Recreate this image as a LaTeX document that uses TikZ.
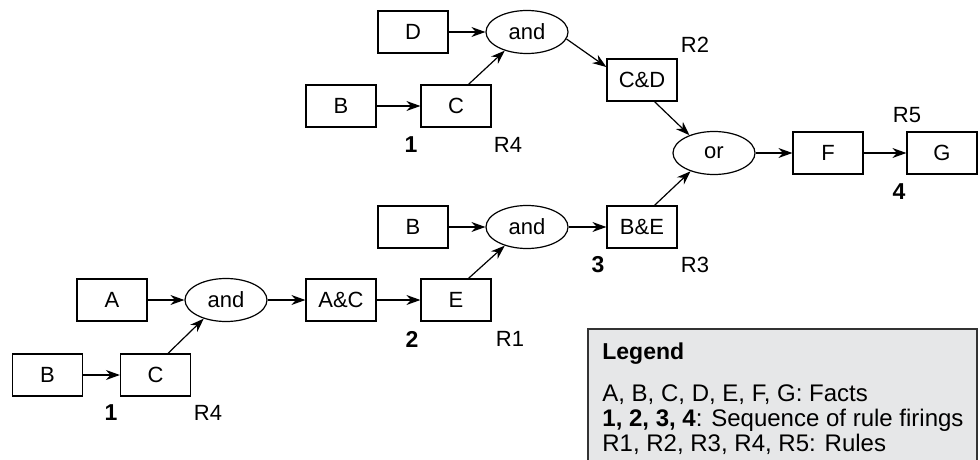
\documentclass[tikz,border=0pt]{standalone}
\usepackage{fontspec}
\setmainfont{Liberation Sans}
\usetikzlibrary{arrows.meta,shapes.geometric}
\definecolor{legendgray}{HTML}{E6E7E8}

\begin{document}
\begin{tikzpicture}[>={Stealth[length=7pt,width=5pt]}, x=0.5pt, y=-0.5pt,
  font=\fontsize{11}{13}\selectfont,
  fact/.style={draw, line width=0.6pt, minimum width=35pt, minimum height=21pt, inner sep=0pt},
  gate/.style={draw, ellipse, line width=0.6pt, minimum width=41pt, minimum height=21.5pt, inner sep=0pt},
  firing/.style={font=\fontsize{11.5}{13}\selectfont\bfseries},
  link/.style={->, line width=0.6pt},
  legendline/.style={anchor=base west, inner sep=0pt, font=\fontsize{12}{14}\selectfont}]
  \useasboundingbox (0,0) rectangle (980,460);
  % lower chain
  \node[fact] (b1) at (47.5,375) {B};
  \node[fact] (c1) at (155.5,375) {C};
  \node[fact] (a) at (112,300) {A};
  \node[gate] (and1) at (226,300) {and};
  \node[fact] (ac) at (341,300) {A\&C};
  \node[fact] (e) at (456,300) {E};
  % middle chain
  \node[fact] (b2) at (413,227) {B};
  \node[gate] (and2) at (527,227) {and};
  \node[fact] (be) at (642,227) {B\&E};
  % upper chain
  \node[fact] (b3) at (341,106) {B};
  \node[fact] (c2) at (456,106) {C};
  \node[fact] (d) at (413,32) {D};
  \node[gate] (and3) at (527,32) {and};
  \node[fact] (cd) at (642,80) {C\&D};
  \node[gate] (or) at (714,153) {or};
  \node[fact] (f) at (828,153) {F};
  \node[fact] (g) at (942,153) {G};

  \draw[link] (b1) -- (c1);
  \draw[link] (c1.60) -- (and1.220);
  \draw[link] (a) -- (and1);
  \draw[link] (and1) -- (ac);
  \draw[link] (ac) -- (e);
  \draw[link] (e.60) -- (and2.220);
  \draw[link] (b2) -- (and2);
  \draw[link] (and2) -- (be);
  \draw[link] (b3) -- (c2);
  \draw[link] (c2.60) -- (and3.220);
  \draw[link] (d) -- (and3);
  \draw[link] (and3.-10) -- (cd.160);
  \draw[link] (cd.-60) -- (or.144);
  \draw[link] (be.60) -- (or.218);
  \draw[link] (or) -- (f);
  \draw[link] (f) -- (g);

  \node[firing] (n1a) at (111,413) {1};
  \node (r4a) at (208,413) {R4};
  \node[firing] (n2) at (412,339) {2};
  \node (r1) at (510,339) {R1};
  \node[firing] (n1b) at (411,145) {1};
  \node (r4b) at (508,145) {R4};
  \node[firing] (n3) at (598,265) {3};
  \node (r3) at (695,265) {R3};
  \node (r2) at (695,45) {R2};
  \node (r5) at (907,115) {R5};
  \node[firing] (n4) at (899,192) {4};

  % legend
  \draw[fill=legendgray, draw=black!80, line width=0.6pt] (588,329) rectangle (977,466);
  \node[legendline, font=\fontsize{11.5}{13}\selectfont\bfseries] (lgtitle) at (602,359) {Legend};
  \node[legendline] (lgfacts) at (602,401) {A, B, C, D, E, F, G: Facts};
  \node[legendline] (lgseq) at (602,426) {\textbf{1, 2, 3, 4}: Sequence of rule firings};
  \node[legendline] (lgrules) at (602,451) {R1, R2, R3, R4, R5: Rules};
\end{tikzpicture}
\end{document}
